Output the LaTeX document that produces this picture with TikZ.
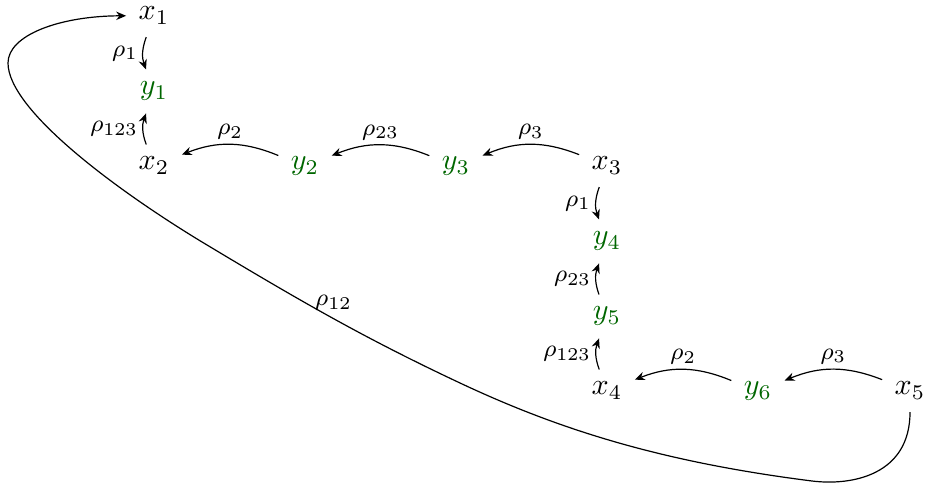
\documentclass[tikz,border=0pt]{standalone}
\usetikzlibrary{arrows.meta}
\definecolor{ygreen}{rgb}{0,0.4,0}
\begin{document}
\begin{tikzpicture}[x=0.3333pt,y=-0.3333pt,
  obj/.style={anchor=base, inner sep=4pt},
  yv/.style={obj, text=ygreen},
  ar/.style={-{Stealth[length=3.3pt,width=2.8pt]}},
  lbl/.style={font=\footnotesize, inner sep=1.5pt}]
\useasboundingbox (0,0) rectangle (927,484);
% nodes
\node[obj] (x1) at (154,20)  {$x_1$};
\node[yv]  (y1) at (154,95)  {$y_1$};
\node[obj] (x2) at (154,170) {$x_2$};
\node[yv]  (y2) at (305,170) {$y_2$};
\node[yv]  (y3) at (456,170) {$y_3$};
\node[obj] (x3) at (607,170) {$x_3$};
\node[yv]  (y4) at (607,245) {$y_4$};
\node[yv]  (y5) at (607,320) {$y_5$};
\node[obj] (x4) at (607,395) {$x_4$};
\node[yv]  (y6) at (758,395) {$y_6$};
\node[obj] (x5) at (910,395) {$x_5$};
% vertical arrows
\draw[ar] (x1) to[bend right=20] node[lbl,left] {$\rho_1$} (y1);
\draw[ar] (x2) to[bend left=20] node[lbl,left] {$\rho_{123}$} (y1);
\draw[ar] (x3) to[bend right=20] node[lbl,left] {$\rho_1$} (y4);
\draw[ar] (y5) to[bend left=20] node[lbl,left] {$\rho_{23}$} (y4);
\draw[ar] (x4) to[bend left=20] node[lbl,left] {$\rho_{123}$} (y5);
% horizontal arrows
\draw[ar] (y2) to[bend right=22] node[lbl,above] {$\rho_2$} (x2);
\draw[ar] (y3) to[bend right=22] node[lbl,above] {$\rho_{23}$} (y2);
\draw[ar] (x3) to[bend right=22] node[lbl,above] {$\rho_3$} (y3);
\draw[ar] (y6) to[bend right=22] node[lbl,above] {$\rho_2$} (x4);
\draw[ar] (x5) to[bend right=22] node[lbl,above] {$\rho_3$} (y6);
% long loop
\draw[ar] (x5.south) .. controls (910,475) and (852,486) .. (812,481)
  .. controls (662,462) and (560,430) .. (460,383)
  .. controls (365,338.35) and (302,302) .. node[lbl,above,pos=0.5,inner sep=2.5pt] {$\rho_{12}$} (207,245)
  .. controls (117,191) and (8,110) .. (8,63)
  .. controls (8,35) and (60,16) .. (x1.west);
\end{tikzpicture}
\end{document}
